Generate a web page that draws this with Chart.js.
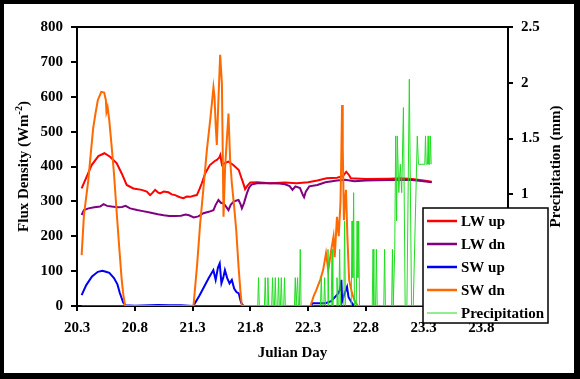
<!DOCTYPE html>
<html><head><meta charset="utf-8">
<script src="https://cdn.jsdelivr.net/npm/chart.js@4.4.1/dist/chart.umd.min.js"></script>
<style>
html,body{margin:0;padding:0;background:#000;width:580px;height:379px;overflow:hidden}
#wrap{position:absolute;left:4px;top:4px;width:570px;height:369px;background:#fff}
</style></head><body>
<div id="wrap"><canvas id="c"></canvas></div>
<script>
// ---- data (Julian day, value) ----
const xTickValues = [20.3, 20.8, 21.3, 21.8, 22.3, 22.8, 23.3, 23.8];
const fluxTicks = [0, 100, 200, 300, 400, 500, 600, 700, 800];
const precipTicks = [0, 0.5, 1, 1.5, 2, 2.5];
const seriesNames = ['LW up', 'LW dn', 'SW up', 'SW dn', 'Precipitation'];

const lwUp = [[20.34,337],[20.384,371],[20.427,404],[20.485,430],[20.537,438],[20.586,428],[20.644,409],[20.687,380],[20.73,347],[20.788,337],[20.86,333],[20.904,328],[20.933,318],[20.955,325],[20.976,333],[21.0,326],[21.019,323],[21.05,328],[21.091,326],[21.12,320],[21.149,318],[21.19,312],[21.221,309],[21.25,314],[21.279,313],[21.31,316],[21.337,318],[21.36,335],[21.38,352],[21.409,380],[21.45,404],[21.49,415],[21.51,419],[21.53,425],[21.54,433],[21.555,404],[21.58,410],[21.61,414],[21.65,405],[21.70,390],[21.72,370],[21.735,356],[21.755,335],[21.775,345],[21.80,354],[21.86,355],[21.97,352],[22.1,354],[22.2,352],[22.3,355],[22.38,360],[22.46,366],[22.55,368],[22.6,372],[22.63,385],[22.655,375],[22.67,366],[22.8,364],[23.0,365],[23.1,366],[23.2,364],[23.3,360],[23.37,356]];

const lwDn = [[20.34,261],[20.36,275],[20.40,280],[20.45,283],[20.5,285],[20.53,292],[20.56,287],[20.6,285],[20.65,283],[20.69,284],[20.72,287],[20.76,280],[20.82,275],[20.87,272],[20.93,268],[21.0,263],[21.05,260],[21.1,258],[21.15,258],[21.2,259],[21.24,262],[21.27,260],[21.31,254],[21.35,257],[21.394,266],[21.44,270],[21.481,275],[21.50,290],[21.524,304],[21.545,296],[21.568,294],[21.59,285],[21.611,275],[21.63,290],[21.654,299],[21.675,302],[21.698,304],[21.715,292],[21.727,280],[21.745,295],[21.77,323],[21.79,340],[21.81,348],[21.857,352],[21.95,352],[22.05,351],[22.1,349],[22.14,344],[22.165,333],[22.19,343],[22.23,338],[22.255,318],[22.265,312],[22.28,328],[22.31,343],[22.38,347],[22.45,355],[22.55,360],[22.62,362],[22.7,358],[22.8,360],[23.0,361],[23.1,362],[23.2,361],[23.3,358],[23.37,355]];

const swUp = [[20.34,31],[20.38,60],[20.43,85],[20.48,98],[20.52,101],[20.55,98],[20.58,95],[20.62,80],[20.65,62],[20.67,38],[20.70,10],[20.72,2],[20.8,1],[21.0,3],[21.1,2],[21.2,2],[21.3,0],[21.31,2],[21.36,30],[21.40,55],[21.44,80],[21.48,103],[21.50,75],[21.52,110],[21.535,122],[21.55,65],[21.565,80],[21.58,103],[21.60,80],[21.62,65],[21.64,75],[21.66,50],[21.68,40],[21.70,36],[21.72,10],[21.74,0],[22.32,0],[22.34,8],[22.45,8],[22.5,14],[22.536,27],[22.56,36],[22.575,46],[22.588,75],[22.595,14],[22.61,30],[22.637,55],[22.65,25],[22.68,8],[22.70,0],[23.37,0]];

const swDn = [[20.34,146],[20.36,260],[20.398,361],[20.42,440],[20.44,510],[20.46,552],[20.48,590],[20.51,614],[20.535,612],[20.55,590],[20.555,557],[20.565,570],[20.58,530],[20.60,457],[20.62,380],[20.644,266],[20.665,170],[20.687,75],[20.70,35],[20.716,0],[21.308,0],[21.34,120],[21.366,237],[21.395,340],[21.424,447],[21.455,540],[21.481,627],[21.49,600],[21.50,520],[21.51,462],[21.525,600],[21.539,720],[21.554,638],[21.568,256],[21.582,399],[21.611,552],[21.625,420],[21.64,352],[21.66,285],[21.678,218],[21.698,113],[21.715,40],[21.727,0],[22.32,0],[22.35,30],[22.37,45],[22.405,75],[22.43,103],[22.455,151],[22.475,103],[22.50,160],[22.52,199],[22.53,140],[22.55,256],[22.565,200],[22.58,295],[22.587,420],[22.594,576],[22.60,450],[22.61,246],[22.617,295],[22.628,333],[22.64,199],[22.655,75],[22.68,37],[22.70,17],[22.73,0],[23.37,0]];

const precipitation = [[20.34,0],[21.864,0],[21.871,0.254],[21.878,0],
[21.922,0],[21.929,0.254],[21.936,0],[21.945,0],[21.952,0.254],[21.959,0],
[21.985,0],[21.992,0.254],[21.999,0],[22.009,0],[22.016,0.254],[22.023,0],[22.037,0],[22.044,0.254],[22.051,0],[22.061,0],[22.068,0.254],[22.075,0],[22.089,0],[22.096,0.254],[22.103,0],
[22.182,0],[22.189,0.254],[22.196,0],[22.202,0],[22.209,0.254],[22.216,0],[22.225,0],[22.232,0.508],[22.239,0],
[22.407,0],[22.414,0.254],[22.421,0],[22.436,0],[22.443,0.254],[22.45,0],[22.465,0],[22.472,0.508],[22.479,0],[22.5,0],[22.507,0.508],[22.514,0],[22.543,0],[22.55,0.254],[22.557,0],[22.566,0],[22.573,0.508],[22.58,0],[22.609,0],[22.616,0.762],[22.623,0],
[22.673,0],[22.68,0.762],[22.687,0.254],[22.694,1.016],[22.701,0],[22.717,0],[22.724,0.762],[22.731,0.254],[22.738,0.762],[22.745,0],
[22.855,0],[22.862,0.508],[22.869,0],[22.884,0],[22.891,0.508],[22.898,0],[22.955,0],[22.962,0.508],[22.969,0],
[23.023,0],[23.03,0.508],[23.037,0],[23.043,0],[23.05,0.508],[23.058,1.524],[23.066,0.762],[23.072,1.524],[23.085,1.016],[23.098,1.27],[23.11,1.016],[23.125,1.778],[23.14,0],[23.155,0],[23.176,2.032],[23.195,0],[23.21,0],[23.245,1.524],[23.255,1.27],[23.31,1.27],[23.316,1.524],[23.322,1.27],[23.333,1.27],[23.339,1.524],[23.345,1.27],[23.353,1.27],[23.359,1.524],[23.365,1.27],[23.368,1.27]];

// ---- styles ----
const colors = ['#FF0000', '#800080', '#0000F0', '#FF6A00', '#22DD22'];
const widths = [2, 2, 2, 2, 1];
const FONT = "'Liberation Serif','Times New Roman',serif";
const pts = arr => arr.map(([x, y]) => ({x, y}));

const allSeries = [lwUp, lwDn, swUp, swDn, precipitation];
const datasets = allSeries.map((s, i) => ({
  label: seriesNames[i],
  data: pts(s),
  yAxisID: i === 4 ? 'y2' : 'y',
  borderColor: colors[i],
  backgroundColor: colors[i],
  borderWidth: widths[i],
  pointRadius: 0,
  tension: 0,
  fill: false,
  order: 5 - i
}));

const tickFont = {family: FONT, size: 15, weight: 'bold'};

const decor = {
  id: 'decor',
  afterDraw(chart) {
    const {ctx, chartArea: a} = chart;
    ctx.save();
    // top frame line
    ctx.strokeStyle = '#000'; ctx.lineWidth = 2;
    ctx.beginPath(); ctx.moveTo(a.left - 1, a.top); ctx.lineTo(a.right + 1, a.top); ctx.stroke();
    const cy = (a.top + a.bottom) / 2;
    ctx.fillStyle = '#000';
    ctx.textBaseline = 'middle'; ctx.textAlign = 'left';
    // left title with superscript
    ctx.save();
    ctx.translate(20, cy); ctx.rotate(-Math.PI / 2);
    const big = 'bold 15px ' + FONT, small = 'bold 10px ' + FONT;
    const t1 = 'Flux Density (Wm', t2 = '-2', t3 = ')';
    ctx.font = big; const w1 = ctx.measureText(t1).width, w3 = ctx.measureText(t3).width;
    ctx.font = small; const w2 = ctx.measureText(t2).width;
    let x = -(w1 + w2 + w3) / 2;
    ctx.font = big; ctx.fillText(t1, x, 0);
    ctx.font = small; ctx.fillText(t2, x + w1, -5);
    ctx.font = big; ctx.fillText(t3, x + w1 + w2, 0);
    ctx.restore();
    // right title
    ctx.save();
    ctx.translate(552, cy); ctx.rotate(-Math.PI / 2);
    ctx.font = big; ctx.textAlign = 'center';
    ctx.fillText('Precipitation (mm)', 0, 0);
    ctx.restore();
    // legend box
    const bx = 419, by = 204, bw = 125, bh = 115;
    ctx.fillStyle = '#fff'; ctx.fillRect(bx, by, bw, bh);
    ctx.strokeStyle = '#000'; ctx.lineWidth = 1.5; ctx.strokeRect(bx, by, bw, bh);
    ctx.font = big; ctx.textAlign = 'left'; ctx.textBaseline = 'middle';
    seriesNames.forEach((n, i) => {
      const yy = by + 13 + i * 23;
      ctx.strokeStyle = colors[i]; ctx.lineWidth = widths[i] + (i < 4 ? 0.5 : 0);
      ctx.beginPath(); ctx.moveTo(bx + 4, yy); ctx.lineTo(bx + 34, yy); ctx.stroke();
      ctx.fillStyle = '#000'; ctx.fillText(n, bx + 38, yy + 1);
    });
    ctx.restore();
  }
};

new Chart(document.getElementById('c'), {
  type: 'line',
  data: {datasets},
  options: {
    responsive: true, maintainAspectRatio: false, animation: false,
    layout: {padding: {top: 23, left: 0, right: 0, bottom: 0}},
    plugins: {legend: {display: false}, tooltip: {enabled: false}},
    scales: {
      x: {
        type: 'linear', position: 'bottom', min: 20.3, max: 24.03,
        afterBuildTicks: s => { s.ticks = xTickValues.map(v => ({value: v})); },
        afterFit: s => { s.height = 67; },
        ticks: {font: tickFont, color: '#000', padding: 8, maxRotation: 0, autoSkip: false,
                callback: v => Number(v).toFixed(1)},
        grid: {display: true, drawOnChartArea: false, drawTicks: true, tickLength: 5, color: '#000', lineWidth: 2},
        border: {display: true, color: '#000', width: 2},
        title: {display: true, text: 'Julian Day', font: {family: FONT, size: 15, weight: 'bold'}, color: '#000', padding: {top: 0, bottom: 11}}
      },
      y: {
        type: 'linear', position: 'left', min: 0, max: 800,
        afterBuildTicks: s => { s.ticks = fluxTicks.map(v => ({value: v})); },
        afterFit: s => { s.width = 73; },
        ticks: {font: tickFont, color: '#000', padding: 8},
        grid: {display: true, drawOnChartArea: false, drawTicks: true, tickLength: 6, color: '#000', lineWidth: 2},
        border: {display: true, color: '#000', width: 2}
      },
      y2: {
        type: 'linear', position: 'right', min: 0, max: 2.5,
        afterBuildTicks: s => { s.ticks = precipTicks.map(v => ({value: v})); },
        afterFit: s => { s.width = 66; },
        ticks: {font: tickFont, color: '#000', padding: 8, callback: v => String(v)},
        grid: {display: true, drawOnChartArea: false, drawTicks: true, tickLength: 5, color: '#000', lineWidth: 2},
        border: {display: true, color: '#000', width: 2}
      }
    }
  },
  plugins: [decor]
});
</script>
</body></html>
